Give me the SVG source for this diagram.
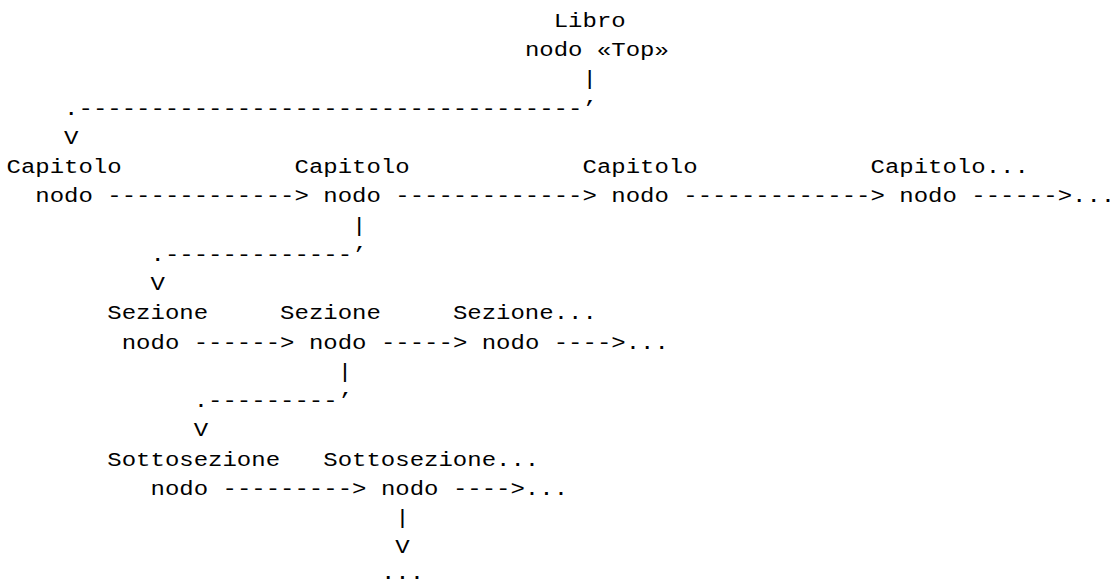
<svg xmlns="http://www.w3.org/2000/svg" width="1115" height="585" viewBox="0 0 1115 585">
<style>
text{font-family:"Liberation Mono","Courier New",monospace;font-size:24px;fill:#000;white-space:pre}
</style>
<rect width="1115" height="585" fill="#fff"/>
<g transform="matrix(1 0 0 0.87 0.5 0)">
<g id="libro">
<text x="553.2" y="31.03">Libro</text>
<text x="524.4" y="64.66">nodo «Top»</text>
</g>
<g id="capitolo1"><text x="6" y="199.14">Capitolo</text><text x="34.8" y="232.76">nodo</text></g>
<g id="capitolo2"><text x="294" y="199.14">Capitolo</text><text x="322.8" y="232.76">nodo</text></g>
<g id="capitolo3"><text x="582" y="199.14">Capitolo</text><text x="610.8" y="232.76">nodo</text></g>
<g id="capitolo4"><text x="870" y="199.14">Capitolo...</text><text x="898.8" y="232.76">nodo</text></g>
<g id="sezione1"><text x="106.8" y="367.24">Sezione</text><text x="121.2" y="400.86">nodo</text></g>
<g id="sezione2"><text x="279.6" y="367.24">Sezione</text><text x="308.4" y="400.86">nodo</text></g>
<g id="sezione3"><text x="452.4" y="367.24">Sezione...</text><text x="481.2" y="400.86">nodo</text></g>
<g id="sottosezione1"><text x="106.8" y="535.34">Sottosezione</text><text x="150" y="568.97">nodo</text></g>
<g id="sottosezione2"><text x="322.8" y="535.34">Sottosezione...</text><text x="380.4" y="568.97">nodo</text></g>
<g id="altro"><text x="380.4" y="665.5">...</text></g>
<g id="connectors">
<text x="582" y="98.28">|</text>
<text x="63.6" y="131.9">.-----------------------------------’</text>
<text x="63.6" y="165.52">V</text>
<text x="106.8" y="232.76">-------------&gt;</text>
<text x="394.8" y="232.76">-------------&gt;</text>
<text x="682.8" y="232.76">-------------&gt;</text>
<text x="970.8" y="232.76">------&gt;...</text>
<text x="351.6" y="266.38">|</text>
<text x="150" y="300">.-------------’</text>
<text x="150" y="333.62">V</text>
<text x="193.2" y="400.86">------&gt;</text>
<text x="380.4" y="400.86">-----&gt;</text>
<text x="553.2" y="400.86">----&gt;...</text>
<text x="337.2" y="434.48">|</text>
<text x="193.2" y="468.1">.---------’</text>
<text x="193.2" y="501.72">V</text>
<text x="222" y="568.97">---------&gt;</text>
<text x="452.4" y="568.97">----&gt;...</text>
<text x="394.8" y="602.59">|</text>
<text x="394.8" y="636.21">V</text>
</g>
</g>
</svg>
